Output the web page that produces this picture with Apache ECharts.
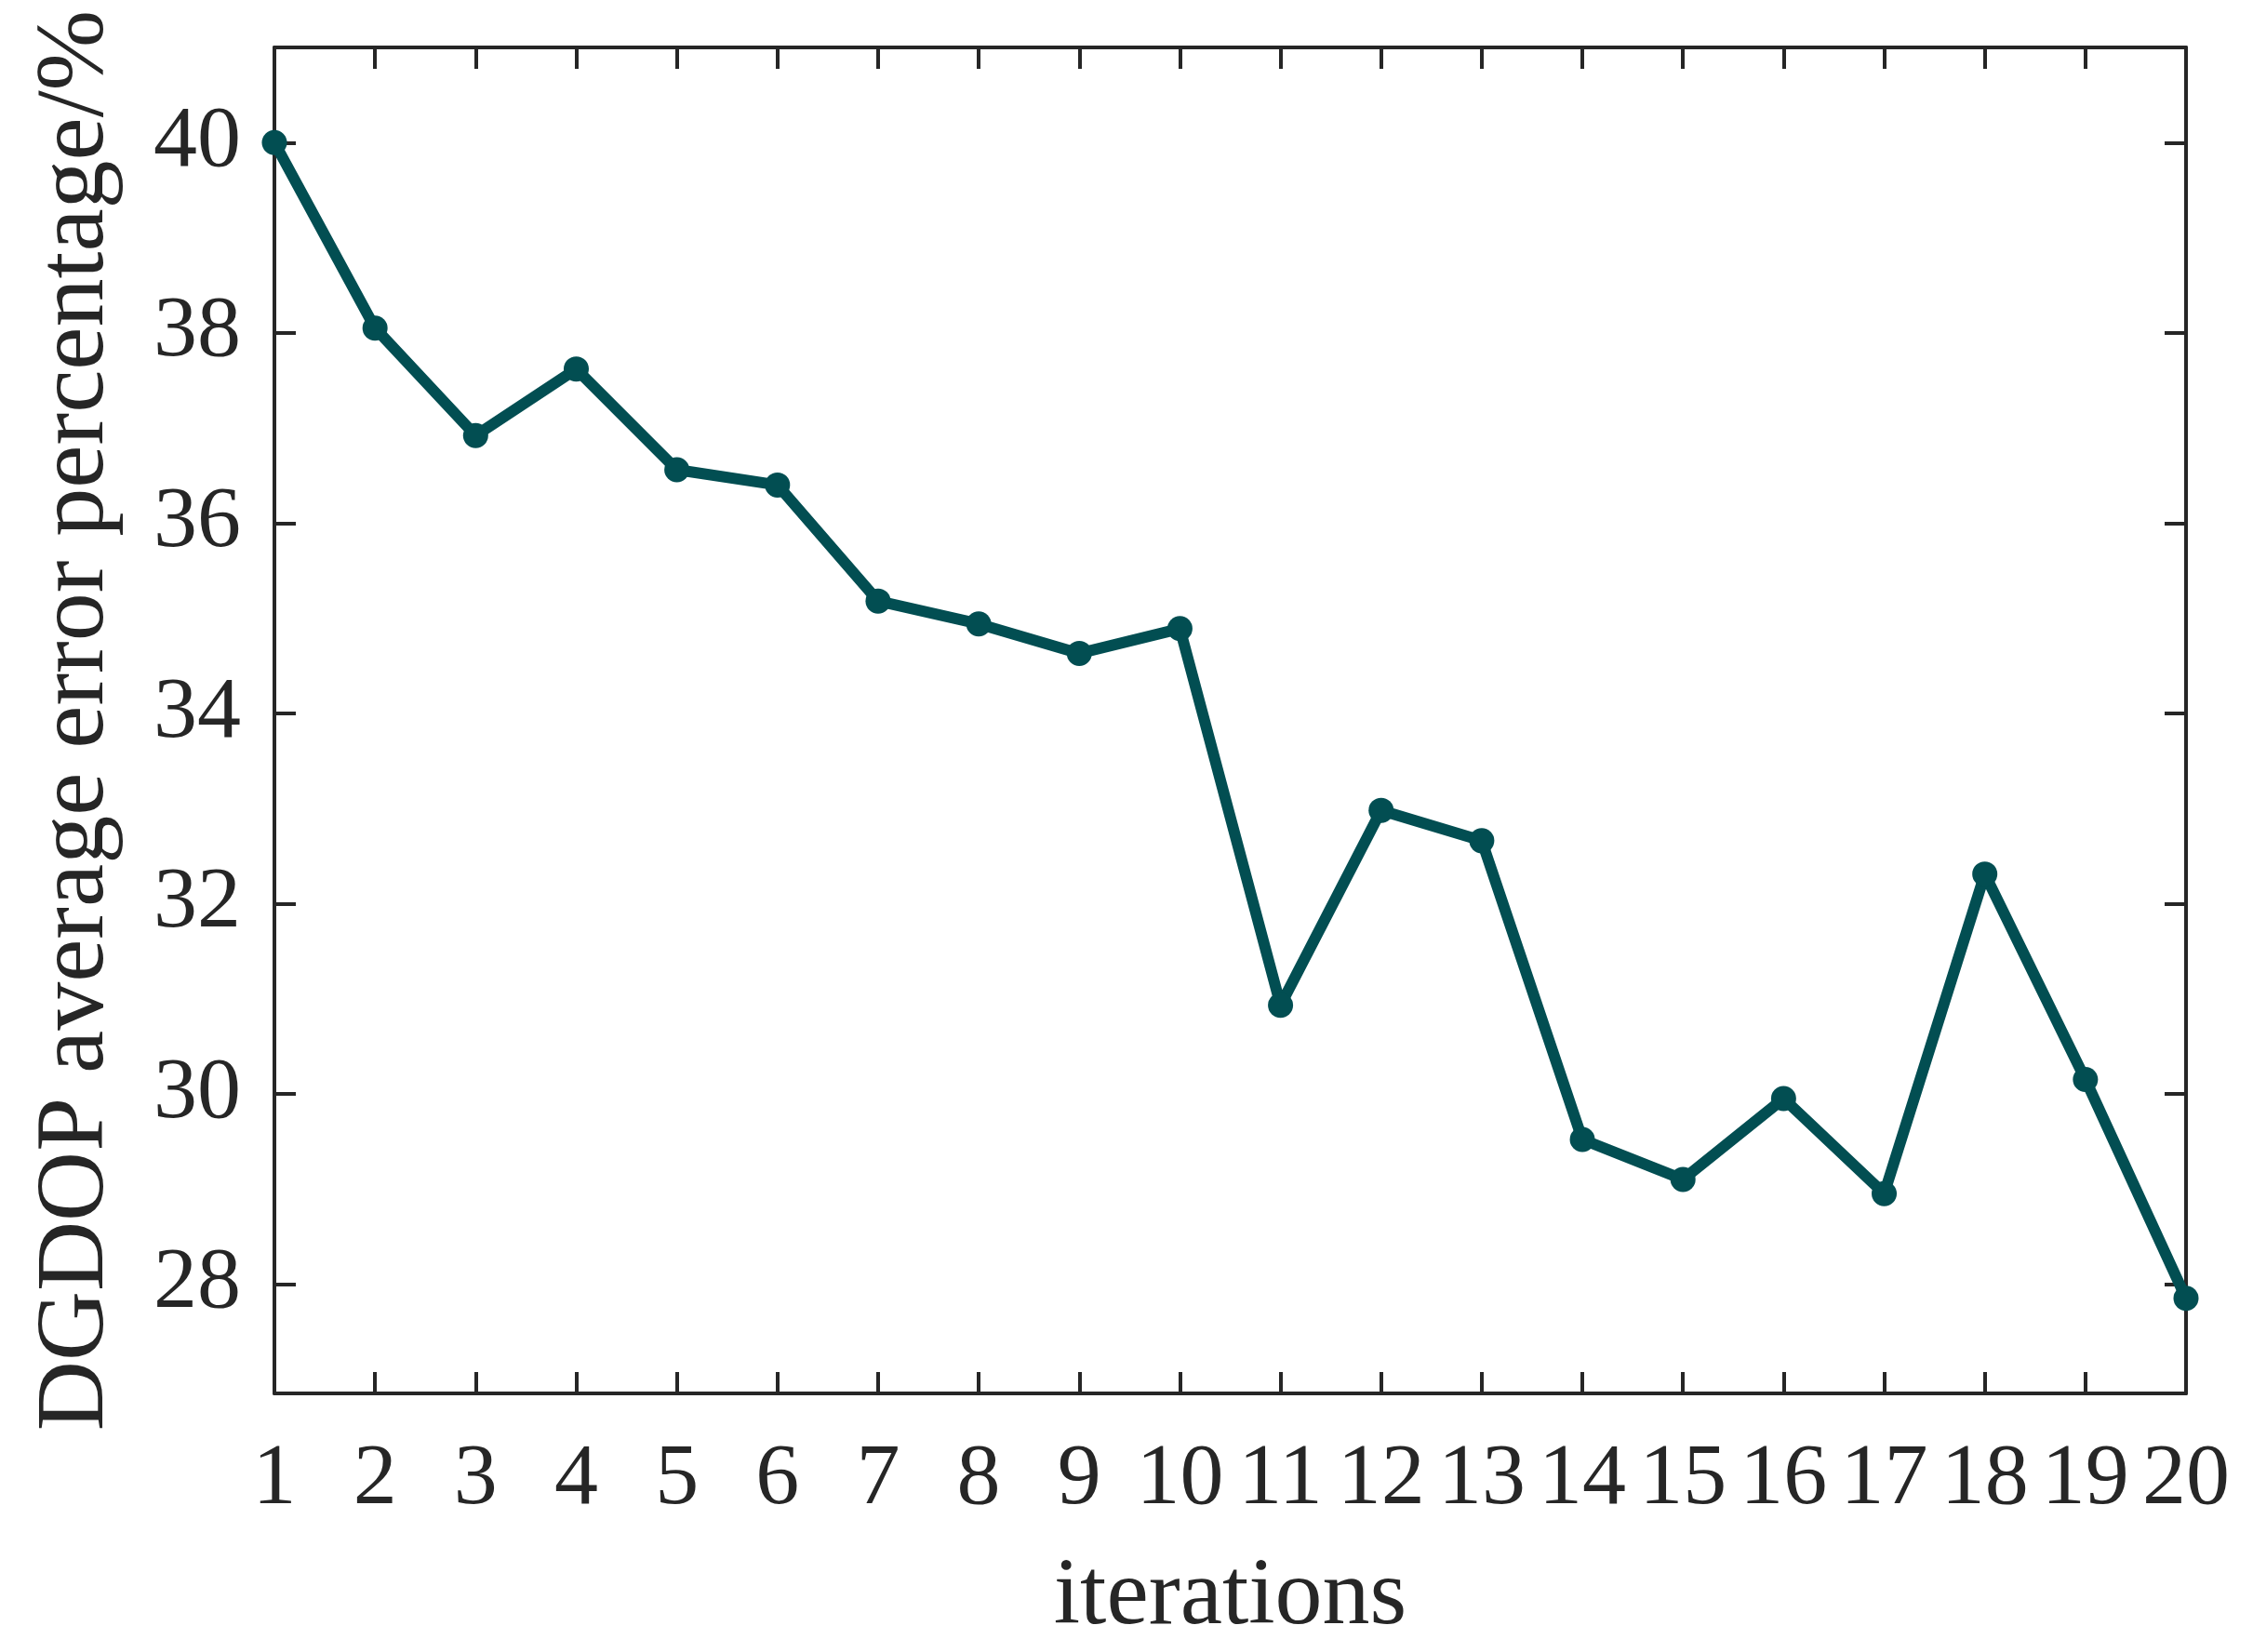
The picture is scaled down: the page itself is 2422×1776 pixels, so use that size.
<!DOCTYPE html>
<html>
<head>
<meta charset="utf-8">
<script src="https://cdn.jsdelivr.net/npm/echarts@6/dist/echarts.min.js"></script>
<style>
html,body{margin:0;padding:0;background:#fff;}
#chart{width:2422px;height:1776px;}
</style>
</head>
<body>
<div id="chart"></div>
<script>
const iterations = [1,2,3,4,5,6,7,8,9,10,11,12,13,14,15,16,17,18,19,20];
const errorPct = [40.0, 38.05, 36.92, 37.62, 36.56, 36.40, 35.18, 34.94, 34.63, 34.89, 30.93, 32.98, 32.66, 29.52, 29.10, 29.95, 28.95, 32.31, 30.15, 27.85];
const yTicks = [28, 30, 32, 34, 36, 38, 40];
const xTitle = 'iterations';
const yTitle = 'DGDOP average error percentage/%';

const FONT = '"Liberation Serif", "Times New Roman", serif';
const AX = '#262626';
const LINE = '#024e52';

const chart = echarts.init(document.getElementById('chart'), null, {renderer: 'canvas'});
const axisLine = {show: true, onZero: false, lineStyle: {color: AX, width: 4}};
const tick = {show: true, inside: true, length: 23, lineStyle: {color: AX, width: 4}};

chart.setOption({
  animation: false,
  backgroundColor: '#ffffff',
  grid: {left: 295, right: 72, top: 51, bottom: 278, containLabel: false, outerBoundsMode: 'none'},
  xAxis: [{
    type: 'value', min: 1, max: 20, interval: 1, position: 'bottom',
    name: xTitle, nameLocation: 'middle', nameGap: 169,
    nameTextStyle: {fontFamily: FONT, fontSize: 102, color: AX},
    axisLine: axisLine, axisTick: tick, splitLine: {show: false},
    axisLabel: {fontFamily: FONT, fontSize: 94, color: AX, margin: 46}
  }, {
    type: 'value', min: 1, max: 20, interval: 1, position: 'top',
    axisLine: axisLine, axisTick: tick, splitLine: {show: false},
    axisLabel: {show: false}
  }],
  yAxis: [{
    type: 'value', min: 26.85, max: 41, position: 'left',
    name: yTitle, nameLocation: 'middle', nameGap: 160, nameRotate: 90,
    nameTextStyle: {fontFamily: FONT, fontSize: 104, color: AX},
    axisLine: axisLine,
    axisTick: Object.assign({}, tick, {customValues: yTicks}),
    splitLine: {show: false},
    axisLabel: {fontFamily: FONT, fontSize: 94, color: AX, margin: 36, customValues: yTicks}
  }, {
    type: 'value', min: 26.85, max: 41, position: 'right',
    axisLine: axisLine,
    axisTick: Object.assign({}, tick, {customValues: yTicks}),
    splitLine: {show: false},
    axisLabel: {show: false, customValues: yTicks}
  }],
  series: [{
    type: 'line',
    data: iterations.map((x, i) => [x, errorPct[i]]),
    xAxisIndex: 0, yAxisIndex: 0,
    symbol: 'circle', symbolSize: 27,
    showAllSymbol: true,
    lineStyle: {color: LINE, width: 12},
    itemStyle: {color: LINE},
    clip: false
  }]
});
</script>
</body>
</html>
